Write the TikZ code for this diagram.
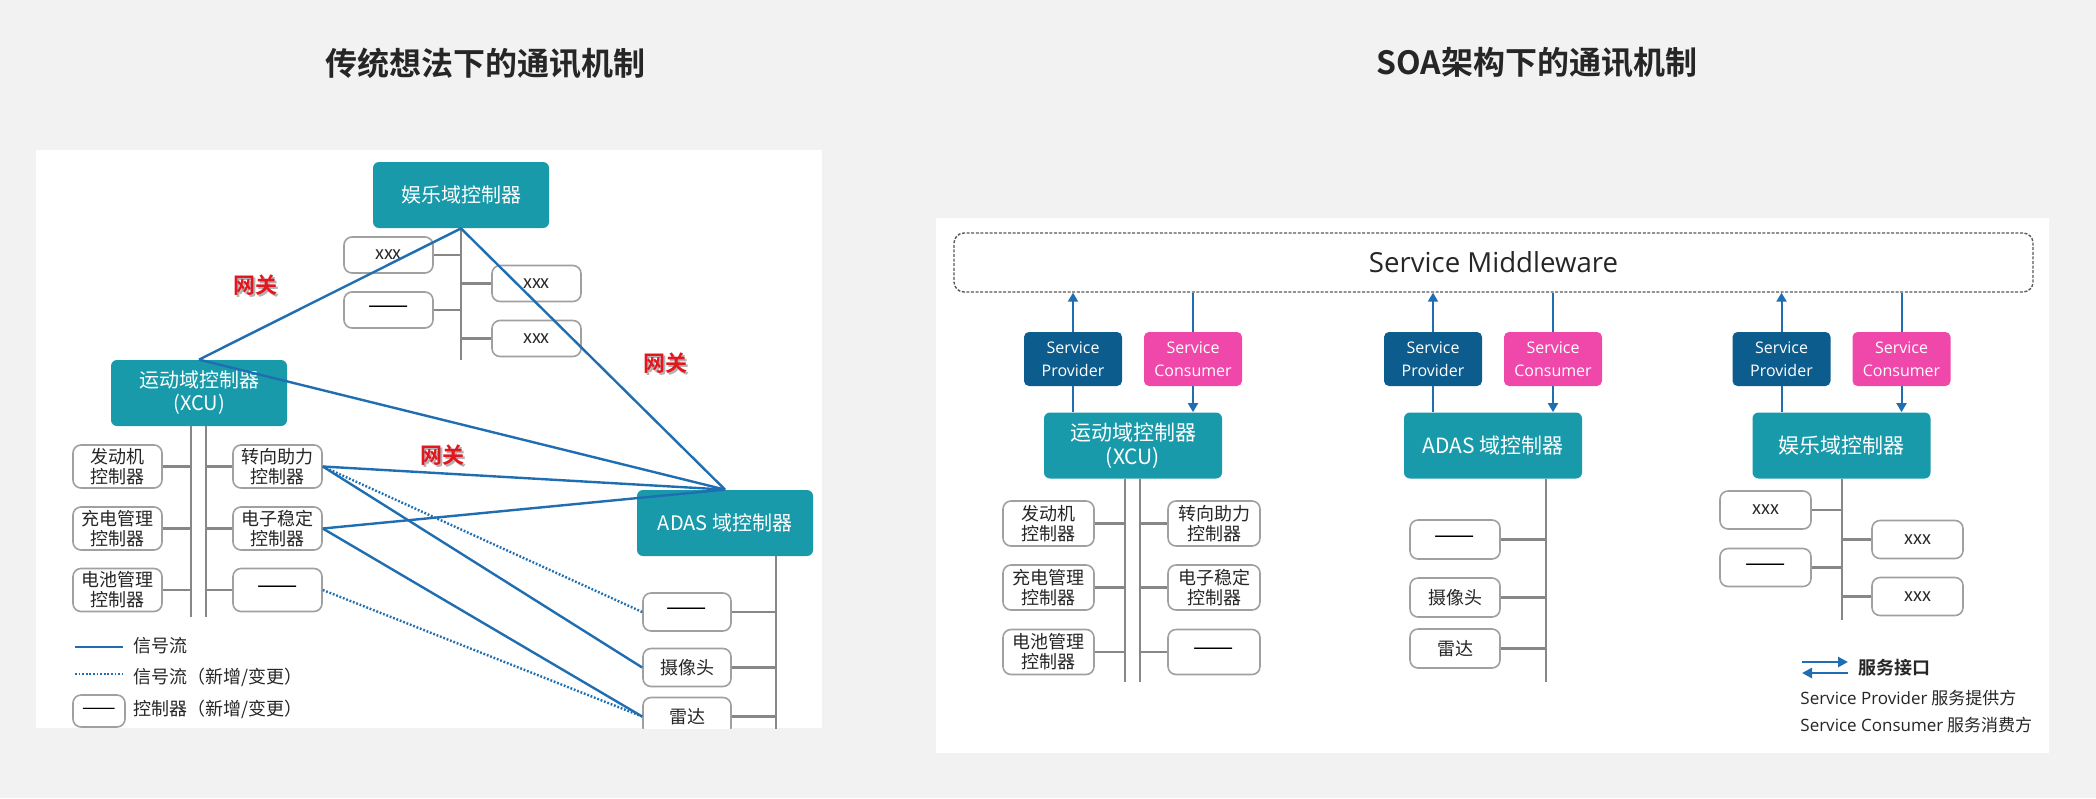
\documentclass[tikz,border=0pt]{standalone}
\usepackage{fontspec}
\setmainfont{Noto Sans CJK SC}[BoldFont={Noto Sans CJK SC Bold}]
\newfontfamily\latinfont{Open Sans}
\usetikzlibrary{arrows.meta}

\definecolor{bggray}{RGB}{242,242,242}
\definecolor{domteal}{RGB}{24,154,170}
\definecolor{provblue}{RGB}{12,92,142}
\definecolor{conspink}{RGB}{240,72,170}
\definecolor{sigblue}{RGB}{32,110,178}
\definecolor{busgray}{RGB}{135,135,135}
\definecolor{boxgray}{RGB}{160,160,160}
\definecolor{gwred}{RGB}{226,22,30}

\newcommand{\blank}{{\fontsize{12}{10}\selectfont\color{black}——}}

\tikzset{
  paneltitle/.style={font=\bfseries\fontsize{16}{16}\selectfont, text=black!85},
  dombox/.style={fill=domteal, text=white, rounded corners=3pt, minimum width=88pt,
    minimum height=33pt, align=center, inner sep=0pt, font=\fontsize{10}{11.5}\selectfont},
  ecu/.style={draw=boxgray, line width=0.8pt, fill=white, rounded corners=4pt, align=center,
    inner sep=0pt, text=black!85, minimum width=44.5pt, font=\fontsize{9}{10}\selectfont},
  bus/.style={draw=busgray, line width=1.3pt},
  sig/.style={draw=sigblue, line width=1.2pt},
  sigdot/.style={sig, dash pattern=on 0.9pt off 0.9pt},
  gw/.style={font=\bfseries\fontsize{11}{11}\selectfont, text=gwred},
  prov/.style={fill=provblue, text=white, rounded corners=2.5pt, minimum width=49pt,
    minimum height=27pt, align=center, inner sep=0pt, font=\latinfont\fontsize{8}{11.5}\selectfont},
  cons/.style={prov, fill=conspink},
  svc/.style={draw=sigblue, line width=1pt},
  arr/.style={svc, -{Triangle[width=5pt,length=4.5pt]}},
  legtxt/.style={anchor=west, inner sep=0pt, text=black!85}
}

\begin{document}
\begin{tikzpicture}[x=0.5pt, y=-0.5pt]
  \useasboundingbox[fill=bggray] (0,0) rectangle (2096,798);

  % titles
  \node[paneltitle] (tleft) at (485,63) {传统想法下的通讯机制};
  \node[paneltitle] (tright) at (1537,63) {SOA架构下的通讯机制};

  % panels
  \fill[white] (36,150) rectangle (822,728);
  \fill[white] (936,218) rectangle (2049,753);

  % ---- left: gateway picture
  \begin{scope}
    \clip (36,150) rectangle (822,728);
    \node[dombox] (ent) at (461,195) {娱乐域控制器};
    \node[dombox] (xcu) at (199,393) {运动域控制器\\(XCU)};
    \node[dombox] (adas) at (725,523) {ADAS 域控制器};

    % entertainment bus
    \coordinate (entb) at (461,360);
    \draw[bus] (ent.south) -- (entb);
    \foreach \i/\x/\y/\t in {1/388.5/255/xxx, 2/388.5/310/\blank, 3/536.5/283.5/xxx, 4/536.5/338.5/xxx}{
      \node[ecu, minimum height=18pt] (e\i) at (\x,\y) {\t};
      \draw[bus] (e\i) -- (e\i -| entb);
    }

    % xcu buses
    \coordinate (xbl) at (191,617);
    \coordinate (xbr) at (206,617);
    \draw[bus] (xcu.south -| xbl) -- (xbl);
    \draw[bus] (xcu.south -| xbr) -- (xbr);
    \foreach \i/\y/\t in {1/466.5/{发动机\\控制器}, 2/528.5/{充电管理\\控制器}, 3/590/{电池管理\\控制器}}{
      \node[ecu, minimum height=21.5pt] (xl\i) at (117.5,\y) {\t};
      \draw[bus] (xl\i.east) -- (xl\i.east -| xbl);
    }
    \foreach \i/\y/\t in {4/466.5/{转向助力\\控制器}, 5/528.5/{电子稳定\\控制器}, 6/590/{\blank}}{
      \node[ecu, minimum height=21.5pt] (xl\i) at (277.5,\y) {\t};
      \draw[bus] (xl\i.west) -- (xl\i.west -| xbr);
    }

    % adas bus
    \coordinate (adb) at (776,740);
    \draw[bus] (adas.south -| adb) -- (adb);
    \foreach \i/\y/\t in {1/612/\blank, 2/667.5/摄像头, 3/716.5/雷达}{
      \node[ecu, minimum width=44pt, minimum height=19pt] (a\i) at (687,\y) {\t};
      \draw[bus] (a\i.east) -- (a\i.east -| adb);
    }

    % signal flows
    \draw[sig] (ent.south) -- (xcu.north);
    \draw[sig] (ent.south) -- (adas.north);
    \draw[sig] (xcu.north) -- (adas.north);
    \draw[sig] (xl4.east) -- (adas.north);
    \draw[sig] (xl5.east) -- (adas.north);
    \draw[sig] (xl4.east) -- (a2.west);
    \draw[sigdot] (xl4.east) -- (a1.west);
    \draw[sig] (xl5.east) -- (a3.west);
    \draw[sigdot] (xl6.east) -- (a3.west);

    \foreach \n/\x/\y in {1/255/285, 2/665/363, 3/442/455}{
      \node[gw, text=black!30] (gws\n) at (\x+2,\y+2) {网关};
      \node[gw] (gw\n) at (\x,\y) {网关};
    }

    % legend
    \draw[sig] (75,647) -- (123,647);
    \node[legtxt, font=\fontsize{9}{9}\selectfont] (lg1) at (133,646) {信号流};
    \draw[sigdot] (75,674) -- (123,674);
    \node[legtxt, font=\fontsize{9}{9}\selectfont] (lg2) at (133,677) {信号流（新增/变更）};
    \node[ecu, minimum width=26pt, minimum height=16pt] (lg3b) at (99,711) {{\fontsize{10}{9}\selectfont\color{black}——}};
    \node[legtxt, font=\fontsize{9}{9}\selectfont] (lg3) at (133,709) {控制器（新增/变更）};
  \end{scope}

  % ---- right: SOA picture
  \node[draw=black!65, dash pattern=on 1.5pt off 0.8pt, line width=0.7pt, rounded corners=5pt,
    minimum width=539.5pt, minimum height=29.5pt, text=black!85,
    font=\latinfont\fontsize{13.8}{13.8}\selectfont] (mw) at (1493.5,262.5) {Service Middleware};

  \foreach \n/\x/\t in {1/1133/{运动域控制器\\(XCU)}, 2/1493/{ADAS 域控制器}, 3/1841.5/{娱乐域控制器}}{
    \node[dombox, minimum width=89pt, font=\fontsize{10.5}{12}\selectfont] (d\n) at (\x,445.5) {\t};
    \node[prov] (sp\n) at (\x-60,359) {Service\\Provider};
    \node[cons] (sc\n) at (\x+60,359) {Service\\Consumer};
    \draw[arr] (sp\n.north) -- (sp\n.north |- mw.south);
    \draw[svc] (sp\n.south) -- (sp\n.south |- d\n.north);
    \draw[svc] (sc\n.north |- mw.south) -- (sc\n.north);
    \draw[arr] (sc\n.south) -- (sc\n.south |- d\n.north);
  }

  % xcu group
  \coordinate (rbl) at (1125,682);
  \coordinate (rbr) at (1140,682);
  \draw[bus] (d1.south -| rbl) -- (rbl);
  \draw[bus] (d1.south -| rbr) -- (rbr);
  \foreach \i/\y/\t in {1/523.5/{发动机\\控制器}, 2/587.5/{充电管理\\控制器}, 3/652/{电池管理\\控制器}}{
    \node[ecu, minimum width=45.5pt, minimum height=22.5pt] (rl\i) at (1048.5,\y) {\t};
    \draw[bus] (rl\i.east) -- (rl\i.east -| rbl);
  }
  \foreach \i/\y/\t in {4/523.5/{转向助力\\控制器}, 5/587.5/{电子稳定\\控制器}, 6/652/{\blank}}{
    \node[ecu, minimum width=46pt, minimum height=22.5pt] (rl\i) at (1214,\y) {\t};
    \draw[bus] (rl\i.west) -- (rl\i.west -| rbr);
  }

  % adas group
  \coordinate (rab) at (1546,682);
  \draw[bus] (d2.south -| rab) -- (rab);
  \foreach \i/\y/\t in {1/539.5/\blank, 2/597.5/摄像头, 3/648.5/雷达}{
    \node[ecu, minimum width=45pt, minimum height=19.5pt] (ra\i) at (1455,\y) {\t};
    \draw[bus] (ra\i.east) -- (ra\i.east -| rab);
  }

  % entertainment group
  \coordinate (reb) at (1842,620);
  \draw[bus] (d3.south -| reb) -- (reb);
  \foreach \i/\x/\y/\t in {1/1765.5/510/xxx, 2/1765.5/567.5/\blank, 3/1917.5/539.5/xxx, 4/1917.5/596.5/xxx}{
    \node[ecu, minimum width=45.5pt, minimum height=19pt] (re\i) at (\x,\y) {\t};
    \draw[bus] (re\i) -- (re\i -| reb);
  }

  % legend
  \coordinate (la1) at (1802,662);
  \coordinate (la2) at (1848,662);
  \coordinate (lb1) at (1848,673);
  \coordinate (lb2) at (1802,673);
  \draw[svc, line width=1.4pt, -{Triangle[width=5pt,length=5pt]}] (la1) -- (la2);
  \draw[svc, line width=1.4pt, -{Triangle[width=5pt,length=5pt]}] (lb1) -- (lb2);
  \node[legtxt, font=\bfseries\fontsize{9}{9}\selectfont] (lgs) at (1858,668) {服务接口};
  \node[legtxt, font=\fontsize{8.5}{8.5}\selectfont] (lgp) at (1800,698) {{\latinfont Service Provider} 服务提供方};
  \node[legtxt, font=\fontsize{8.5}{8.5}\selectfont] (lgc) at (1800,725) {{\latinfont Service Consumer} 服务消费方};
\end{tikzpicture}
\end{document}
